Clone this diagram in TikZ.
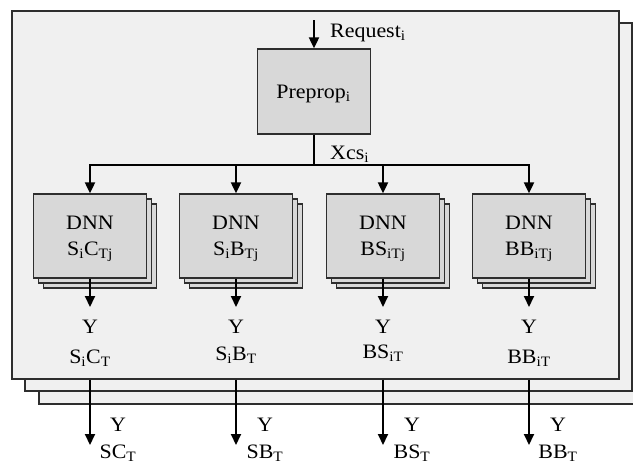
\documentclass[tikz,border=0pt]{standalone}
\usepackage{fontspec}
\setmainfont{Liberation Serif}[FakeStretch=1.07]
\usetikzlibrary{arrows.meta}
\definecolor{framefill}{HTML}{F0F0F0}
\definecolor{boxfill}{HTML}{D8D8D8}
\definecolor{edgecol}{HTML}{2E2E2E}
\newcommand{\sbs}[1]{\textsubscript{#1}}
\begin{document}
\begin{tikzpicture}[x=1pt,y=-1pt,
  frame/.style={draw=edgecol,line width=1.5pt,fill=framefill,rectangle,
    minimum width=607pt,minimum height=368pt,inner sep=0pt,anchor=north west},
  box/.style={draw=edgecol,line width=1.3pt,fill=boxfill,rectangle,inner sep=0pt},
  dnnbox/.style={box,minimum width=113pt,minimum height=84pt},
  conn/.style={black,line width=2pt},
  arr/.style={conn,-{Triangle[length=11pt,width=10pt]}},
  lbl/.style={inner sep=0pt,anchor=base,font=\fontsize{20.5}{26}\selectfont},
]
\useasboundingbox (0,0) rectangle (633,464);
\clip (0,0) rectangle (633,464);
% stacked frames
\node[frame] (f3) at (38,35) {};
\node[frame] (f2) at (24,22) {};
\node[frame] (f1) at (11,10) {};
% preprocessing
\node[box,minimum width=113pt,minimum height=85pt] (pre) at (314,91.5) {};
\node[lbl] (pretxt) at (313.5,98) {Preprop\sbs{i}};
\coordinate (reqtop) at (314,20);
\draw[arr] (reqtop) -- (pre.north);
\node[lbl,anchor=base west] (reqtxt) at (330,37) {Request\sbs{i}};
\coordinate (split) at (314,165);
\draw[conn] (pre.south) -- (split);
\node[lbl,anchor=base west] (xcstxt) at (330,159) {Xcs\sbs{i}};
% DNN columns
\foreach \n/\cx/\dl/\yl/\yb/\bx/\bl in {
  1/90/{S\sbs{i}C\sbs{Tj}}/{S\sbs{i}C\sbs{T}}/363/118/{SC\sbs{T}},
  2/236/{S\sbs{i}B\sbs{Tj}}/{S\sbs{i}B\sbs{T}}/360/265/{SB\sbs{T}},
  3/383/{BS\sbs{iTj}}/{BS\sbs{iT}}/358/412/{BS\sbs{T}},
  4/529/{BB\sbs{iTj}}/{BB\sbs{iT}}/363/558/{BB\sbs{T}}}
{
  \node[dnnbox] (d\n c2) at (\cx+10,246) {};
  \node[dnnbox] (d\n c1) at (\cx+5,241) {};
  \node[dnnbox] (d\n) at (\cx,236) {};
  \node[lbl] (d\n t1) at (\cx,229) {DNN};
  \node[lbl] (d\n t2) at (\cx,255) {\dl};
  \draw[arr] (split) -| (d\n.north);
  \coordinate (o\n) at (\cx,307);
  \draw[arr] (d\n.south) -- (o\n);
  \node[lbl] (y\n a) at (\cx,333) {Y};
  \node[lbl] (y\n b) at (\cx,\yb) {\yl};
  \coordinate (b\n) at (\cx,445);
  \draw[arr] (d\n.south |- f1.south) -- (b\n);
  \node[lbl] (z\n a) at (\bx,431) {Y};
  \node[lbl] (z\n b) at (\bx,458.5) {\bl};
}
\end{tikzpicture}
\end{document}
